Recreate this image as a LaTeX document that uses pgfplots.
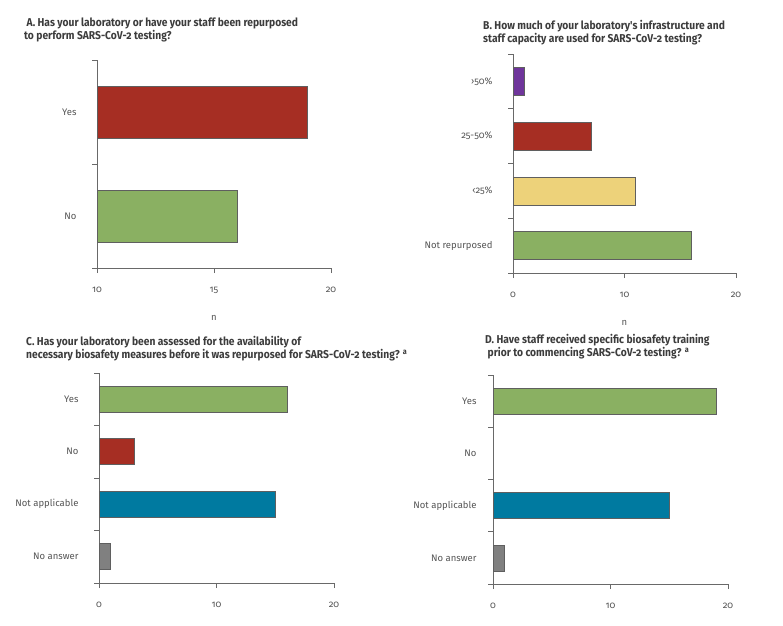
\documentclass[border=0pt]{standalone}
\usepackage{fontspec}
\setmainfont{Fira Sans}[Numbers=OldStyle]
\newfontfamily\titlefont{Fira Sans}[Numbers=OldStyle, FakeStretch=0.9]
\usepackage{pgfplots}
\pgfplotsset{compat=1.18}

\definecolor{cRed}{RGB}{166,46,35}
\definecolor{cGreen}{RGB}{138,176,98}
\definecolor{cYellow}{RGB}{237,210,122}
\definecolor{cPurple}{RGB}{111,53,155}
\definecolor{cBlue}{RGB}{0,122,160}
\definecolor{cGray}{RGB}{128,128,128}
\definecolor{edge}{RGB}{95,95,95}
\definecolor{axgray}{RGB}{105,105,105}
\definecolor{labgray}{RGB}{85,85,85}
\definecolor{titgray}{RGB}{60,60,60}

\pgfplotsset{
  panel/.style={
    scale only axis,
    xbar,
    axis lines*=left,
    axis line style={draw=axgray, line width=0.8pt},
    tick align=outside,
    major tick length=5pt,
    tick style={draw=axgray, line width=0.8pt},
    yticklabels={},
    extra y tick style={major tick length=0pt},
    /pgf/number format/assume math mode=true,
    tick label style={font=\fontsize{9.5}{11}\selectfont, text=labgray},
    xticklabel style={yshift=-11pt},
    xlabel style={font=\fontsize{9.5}{11}\selectfont, text=labgray},
    clip=true,
  },
  bars/.style={bar shift=0pt, bar width=#1, draw=edge, line width=0.6pt},
}

\begin{document}
\begin{tikzpicture}
\useasboundingbox (0,0) rectangle (783pt,625pt);

% ---------- A ----------
\begin{axis}[panel, at={(97pt,357pt)}, anchor=south west,
  width=234pt, height=208pt,
  xmin=10, xmax=20, xtick={10,15,20},
  yticklabel style={xshift=-17pt},
  ymin=-0.5, ymax=1.5, ytick={-0.5,0.5,1.5},
  extra y ticks={0,1}, extra y tick labels={No,Yes},
  xlabel={n}, xlabel style={at={(axis description cs:0.5,0)}, anchor=center, yshift=-50pt}]
\addplot[bars=52pt, fill=cRed] coordinates {(19,1)};
\addplot[bars=52pt, fill=cGreen] coordinates {(16,0)};
\end{axis}

% ---------- B ----------
\begin{axis}[panel, at={(513pt,352pt)}, anchor=south west,
  width=223pt, height=219pt,
  xmin=0, xmax=20, xtick={0,10,20},
  yticklabel style={xshift=-17pt},
  ymin=-0.5, ymax=3.5, ytick={-0.5,0.5,1.5,2.5,3.5},
  extra y ticks={0,1,2,3}, extra y tick labels={Not repurposed,\char"2039 25\%,25-50\%,\char"203A 50\%},
  xlabel={n}, xlabel style={at={(axis description cs:0.5,0)}, anchor=center, yshift=-50pt}]
\addplot[bars=28pt, fill=cPurple] coordinates {(1,3)};
\addplot[bars=28pt, fill=cRed] coordinates {(7,2)};
\addplot[bars=28pt, fill=cYellow] coordinates {(11,1)};
\addplot[bars=28pt, fill=cGreen] coordinates {(16,0)};
\end{axis}

% ---------- C ----------
\begin{axis}[panel, at={(99pt,42pt)}, anchor=south west,
  width=235pt, height=210pt,
  xmin=0, xmax=20, xtick={0,10,20},
  yticklabel style={xshift=-17pt},
  ymin=-0.5, ymax=3.5, ytick={-0.5,0.5,1.5,2.5,3.5},
  extra y ticks={0,1,2,3}, extra y tick labels={No answer,Not applicable,No,Yes}]
\addplot[bars=26pt, fill=cGreen] coordinates {(16,3)};
\addplot[bars=26pt, fill=cRed] coordinates {(3,2)};
\addplot[bars=26pt, fill=cBlue] coordinates {(15,1)};
\addplot[bars=26pt, fill=cGray] coordinates {(1,0)};
\end{axis}

% ---------- D ----------
\begin{axis}[panel, at={(493pt,41pt)}, anchor=south west,
  width=235pt, height=209pt,
  xmin=0, xmax=20, xtick={0,10,20},
  yticklabel style={xshift=-13pt},
  ymin=-0.5, ymax=3.5, ytick={-0.5,0.5,1.5,2.5,3.5},
  extra y ticks={0,1,2,3}, extra y tick labels={No answer,Not applicable,No,Yes}]
\addplot[bars=26pt, fill=cGreen] coordinates {(19,3)};
\addplot[bars=26pt, draw=none, fill=none] coordinates {(0,2)};
\addplot[bars=26pt, fill=cBlue] coordinates {(15,1)};
\addplot[bars=26pt, fill=cGray] coordinates {(1,0)};
\end{axis}

% ---------- titles ----------
\tikzset{ttl/.style={anchor=west, align=left, inner sep=0pt, text=titgray,
  font=\titlefont\bfseries\fontsize{11.4}{13}\selectfont}}
\node[ttl] at (24pt,595pt) {\ A. Has your laboratory or have your staff been repurposed\\to perform SARS-CoV-2 testing?};
\node[ttl] at (483pt,592.5pt) {B. How much of your laboratory's infrastructure and\\staff capacity are used for SARS-CoV-2 testing?};
\node[ttl] at (26pt,276.5pt) {C. Has your laboratory been assessed for the availability of\\necessary biosafety measures before it was repurposed for SARS-CoV-2 testing? \textsuperscript{a}};
\node[ttl] at (485pt,278pt) {D. Have staff received specific biosafety training\\\ prior to commencing SARS-CoV-2 testing? \textsuperscript{a}};
\end{tikzpicture}
\end{document}
